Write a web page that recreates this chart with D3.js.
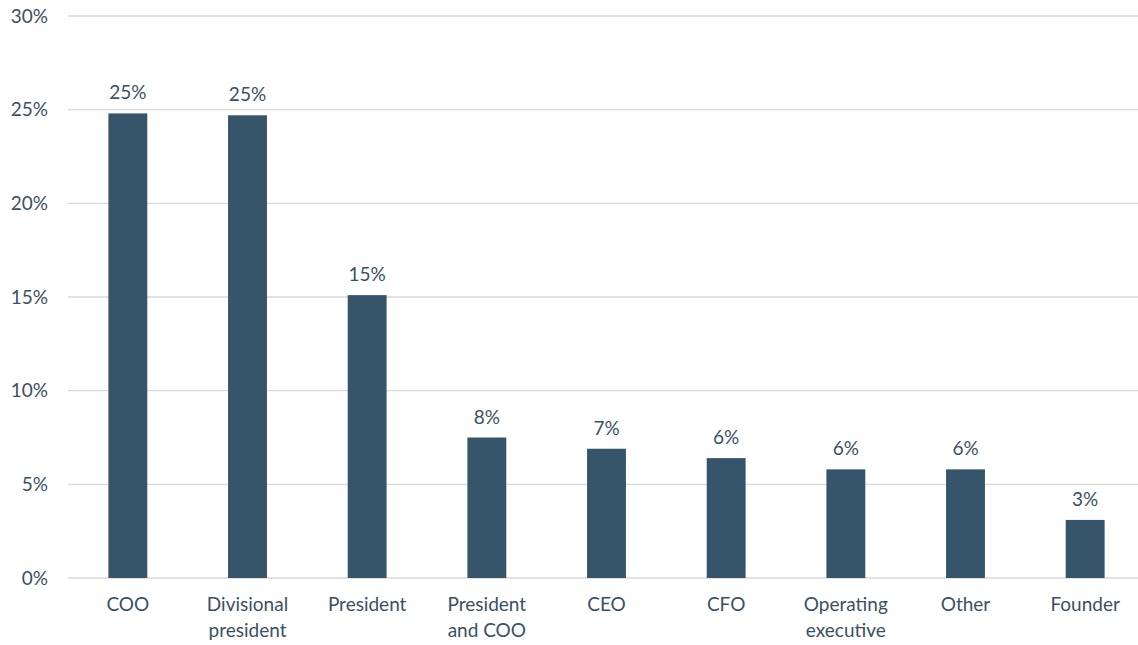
<!DOCTYPE html>
<html>
<head>
<meta charset="utf-8">
<script src="https://cdn.jsdelivr.net/npm/d3@7"></script>
<style>
  html, body { margin: 0; padding: 0; background: #ffffff; }
  svg { display: block; font-family: Lato, "Noto Sans", sans-serif; }
</style>
</head>
<body>
<svg id="chart" width="1138" height="645"></svg>
<script>
// Share of new CEOs by prior role
const categories = [
  ["COO"],
  ["Divisional", "president"],
  ["President"],
  ["President", "and COO"],
  ["CEO"],
  ["CFO"],
  ["Operating", "executive"],
  ["Other"],
  ["Founder"]
];
const values = [0.248, 0.247, 0.151, 0.075, 0.069, 0.064, 0.058, 0.058, 0.031];
const yTicks = [0, 0.05, 0.10, 0.15, 0.20, 0.25, 0.30];

const width = 1138, height = 645;
const margin = { top: 16, right: 0, bottom: 67, left: 68 };
const textColor = "#3a5064";
const barColor = "#36556b";
const fontSize = "19px";

const svg = d3.select("#chart");
const keys = categories.map(c => c.join(" "));

const x = d3.scaleBand()
  .domain(keys)
  .range([68, 1145])
  .paddingInner(0.675)
  .paddingOuter(0.3375);

const y = d3.scaleLinear()
  .domain([0, 0.30])
  .range([578, margin.top]);

const pct = d3.format(".0%");

// Horizontal gridlines
svg.append("g")
  .selectAll("line")
  .data(yTicks)
  .join("line")
  .attr("x1", margin.left)
  .attr("x2", width)
  .attr("y1", d => y(d))
  .attr("y2", d => y(d))
  .attr("stroke", "#d9d9d9")
  .attr("stroke-width", 1.3);

// Y axis labels
const yAxis = d3.axisLeft(y).tickValues(yTicks).tickFormat(pct).tickSize(0).tickPadding(0);
svg.append("g")
  .attr("transform", "translate(48,0)")
  .call(yAxis)
  .call(g => g.select(".domain").remove())
  .call(g => g.selectAll("text")
    .attr("fill", textColor)
    .style("font-size", fontSize)
    .style("font-family", "Lato, 'Noto Sans', sans-serif"));

// Bars
svg.append("g")
  .selectAll("rect")
  .data(values)
  .join("rect")
  .attr("x", (d, i) => x(keys[i]))
  .attr("y", d => y(d))
  .attr("width", x.bandwidth())
  .attr("height", d => y(0) - y(d))
  .attr("fill", barColor);

// Value labels
svg.append("g")
  .selectAll("text")
  .data(values)
  .join("text")
  .attr("x", (d, i) => x(keys[i]) + x.bandwidth() / 2)
  .attr("y", d => y(d) - 14)
  .attr("text-anchor", "middle")
  .attr("fill", textColor)
  .style("font-size", fontSize)
  .text(d => pct(d));

// Category labels (wrapped)
const xg = svg.append("g")
  .selectAll("text")
  .data(categories)
  .join("text")
  .attr("x", (d, i) => x(keys[i]) + x.bandwidth() / 2)
  .attr("y", 611)
  .attr("text-anchor", "middle")
  .attr("fill", textColor)
  .style("font-size", fontSize);
xg.selectAll("tspan")
  .data(d => d)
  .join("tspan")
  .attr("x", function() { return d3.select(this.parentNode).attr("x"); })
  .attr("dy", (d, i) => i === 0 ? 0 : 26)
  .text(d => d);
</script>
</body>
</html>
